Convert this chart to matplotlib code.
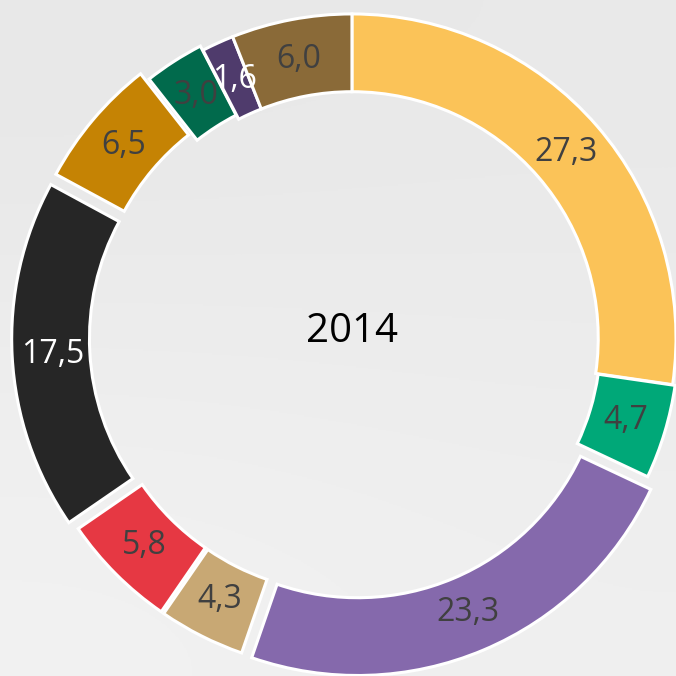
import matplotlib.pyplot as plt
import numpy as np

# Anteile 2014 (%), im Uhrzeigersinn ab 12 Uhr
values = [27.3, 4.7, 23.3, 4.3, 5.8, 17.5, 6.5, 3.0, 1.6, 6.0]
labels = ['27,3', '4,7', '23,3', '4,3', '5,8', '17,5', '6,5', '3,0', '1,6', '6,0']
colors = ['#FBC358', '#00A878', '#8569AC', '#C8A874', '#E63843',
          '#262626', '#C58304', '#016A4C', '#4F3B6C', '#8A6A38']
label_colors = ['#404040', '#404040', '#404040', '#404040', '#404040',
                'white', '#404040', '#404040', 'white', '#404040']
explode = [0, 0.008, 0.045, 0.03, 0.03, 0.05, 0.045, 0.015, 0, 0]
year = '2014'

plt.rcParams['font.family'] = ['Open Sans', 'DejaVu Sans']

fig = plt.figure(figsize=(6.76, 6.76), dpi=100)
fig.patch.set_facecolor('#EBEBEC')
ax = fig.add_axes([0, 0, 1, 1])

# Hintergrund: oben grauer, unten heller (wie das Foto im Original)
bg = np.array([[0.905, 0.91], [0.945, 0.935]])
ax.imshow(bg, cmap='gray', vmin=0, vmax=1, extent=(-1.086, 1.0, -1.043, 1.043),
          interpolation='bicubic', zorder=0, aspect='auto')

wedges, texts = ax.pie(values, colors=colors, explode=explode, startangle=90,
                       counterclock=False, radius=1.0,
                       labels=labels, labeldistance=0.875,
                       wedgeprops=dict(width=0.24, edgecolor='white', linewidth=2.2),
                       textprops=dict(fontsize=23, ha='center', va='center'))
for t, c in zip(texts, label_colors):
    t.set_color(c)

ax.text(0, 0.02, year, fontsize=29, ha='center', va='center', color='black')

ax.set_xlim(-1.086, 1.0)
ax.set_ylim(-1.043, 1.043)
ax.set_aspect('equal')
ax.axis('off')

fig.savefig('out.png', dpi=100, facecolor=fig.get_facecolor())
